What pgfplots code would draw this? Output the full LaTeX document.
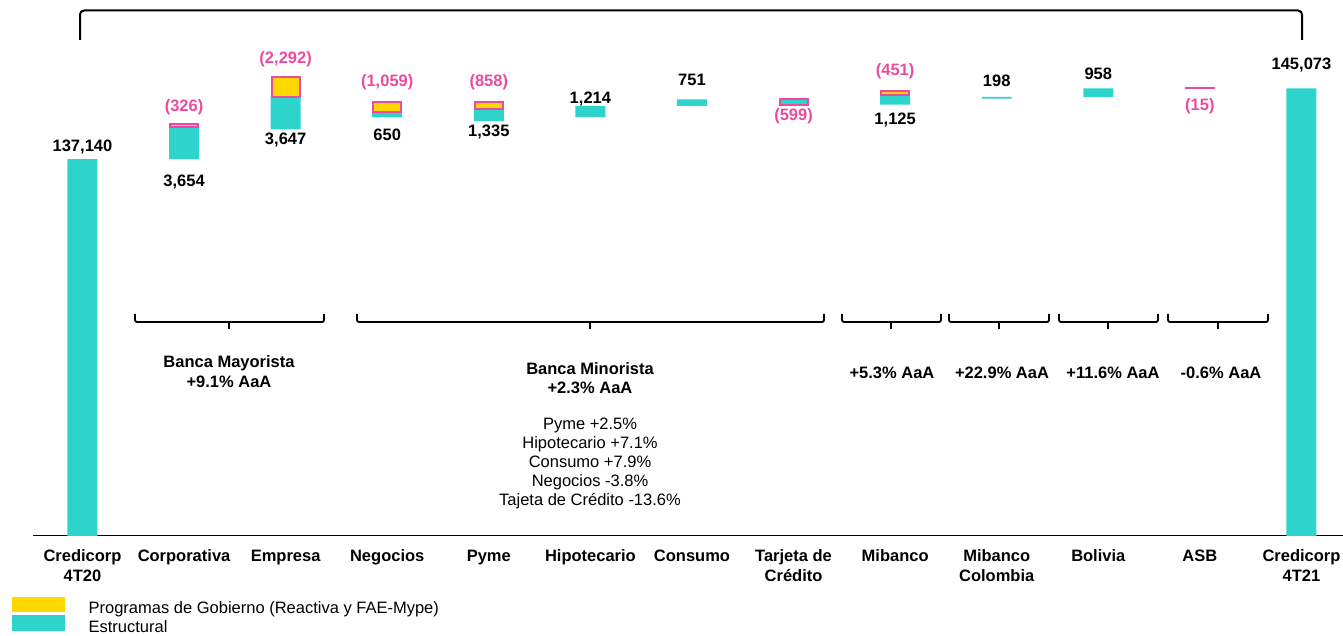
\documentclass[border=0pt]{standalone}
\usepackage{fontspec}
\setmainfont{Liberation Sans}
\usepackage{pgfplots}
\pgfplotsset{compat=1.18}

\definecolor{cian}{HTML}{2DD4CB}
\definecolor{oro}{HTML}{FFD800}
\definecolor{rosa}{HTML}{EC4A9F}

\newcommand{\fs}{\fontsize{16.5}{19.5}\selectfont}

% common geometry for the three overlaid axes
\pgfplotsset{
  cascada/.style={
    width=1310pt, height=535.5pt, scale only axis,
    xmin=-0.487, xmax=12.409, ymin=94900, ymax=155000,
    ybar stacked, bar width=30pt,
  },
}
\tikzset{
  lbl/.style={font=\bfseries\fs, inner sep=0pt},
  lneg/.style={lbl, text=rosa},
}

\begin{document}
\begin{tikzpicture}

% base + structural
\begin{axis}[cascada,
  axis x line*=bottom, axis y line=none,
  x axis line style={line width=1.6pt},
  xtick={0,...,12}, major tick length=0pt, ytick=\empty,
  xticklabels={{Credicorp\\4T20},Corporativa,Empresa,Negocios,Pyme,Hipotecario,Consumo,{Tarjeta de\\Crédito},Mibanco,{Mibanco\\Colombia},Bolivia,ASB,{Credicorp\\4T21}},
  xticklabel style={font=\bfseries\fs, align=center, inner sep=0pt, yshift=-14pt},
  legend style={at={(axis description cs:-0.016,-0.1145)}, anchor=north west,
    draw=none, fill=none, inner sep=0pt, font=\fs, row sep=-1pt,
    nodes={inner sep=0pt, text height=11pt, text depth=3pt},
    /tikz/every odd column/.append style={column sep=24pt}},
  legend cell align=left,
]
\addplot[draw=none, fill=none, forget plot] coordinates {
  (0,0) (1,137140) (2,140468) (3,141823) (4,141414) (5,141891) (6,143105)
  (7,143257) (8,143257) (9,143931) (10,144129) (11,145072) (12,0)
};
\addplot[draw=none, fill=cian, forget plot] coordinates {
  (0,137140) (1,3654) (2,3647) (3,650) (4,1335) (5,1214) (6,751)
  (7,0) (8,1125) (9,198) (10,958) (11,0) (12,145073)
};
\addlegendimage{legend image code/.code={\fill[oro] (0pt,-2pt) rectangle (52pt,12pt);}}
\addlegendentry{Programas de Gobierno (Reactiva y FAE-Mype)}
\addlegendimage{legend image code/.code={\fill[cian] (0pt,-2pt) rectangle (52pt,13pt);}}
\addlegendentry{Estructural}

% value labels
\node[lbl]  at (axis cs:0,138501) {137,140};
\node[lneg] at (axis cs:1,142991) {(326)};
\node[lbl]  at (axis cs:1,134573) {3,654};
\node[lneg] at (axis cs:2,148378) {(2,292)};
\node[lbl]  at (axis cs:2,139287) {3,647};
\node[lneg] at (axis cs:3,145796) {(1,059)};
\node[lbl]  at (axis cs:3,139848) {650};
\node[lneg] at (axis cs:4,145796) {(858)};
\node[lbl]  at (axis cs:4,140185) {1,335};
\node[lbl]  at (axis cs:5,143888) {1,214};
\node[lbl]  at (axis cs:6,146021) {751};
\node[lneg] at (axis cs:7,141980) {(599)};
\node[lneg] at (axis cs:8,147031) {(451)};
\node[lbl]  at (axis cs:8,141532) {1,125};
\node[lbl]  at (axis cs:9,145909) {198};
\node[lbl]  at (axis cs:10,146694) {958};
\node[lneg] at (axis cs:11,143100) {(15)};
\node[lbl]  at (axis cs:12,147704) {145,073};
\end{axis}

% pure decreases (Tarjeta de Credito, ASB)
\begin{axis}[cascada, hide axis, bar width=28pt]
\addplot[draw=none, fill=none] coordinates {(7,143257) (11,145072)};
\addplot[fill=cian, draw=rosa, line width=2pt] coordinates {(7,599) (11,15)};
\end{axis}

% government programmes
\begin{axis}[cascada, hide axis, bar width=28pt]
\addplot[draw=none, fill=none] coordinates {(1,140794) (2,144115) (3,142473) (4,142749) (8,144382)};
\addplot[fill=oro, draw=rosa, line width=2pt] coordinates {(1,326) (2,2292) (3,1059) (4,858) (8,451)};
\end{axis}

% brackets and segment notes, in picture pixels from top left
\begin{scope}[shift={(current axis.north west)}, x=1pt, y=-1pt, shift={(-33pt,0pt)}]
  \draw[line width=2pt, rounded corners=4pt] (80,40) -- (80,10.5) -- (1302,10.5) -- (1302,40);
  \foreach \a/\b/\m in {135/324/229, 357/824/590, 842/941/891, 949/1049/999, 1059/1158/1108, 1168/1268/1218}{
    \draw[line width=1.8pt, rounded corners=2pt] (\a,314) -- (\a,322) -- (\b,322) -- (\b,314);
    \draw[line width=1.8pt] (\m,322) -- (\m,329.5);
  }
  \node[lbl, align=center] at (229,371.5) {Banca Mayorista\\+9.1\% AaA};
  \node[lbl, align=center] at (590,378) {Banca Minorista\\+2.3\% AaA};
  \node[font=\fontsize{16.5}{19}\selectfont, align=center, inner sep=0pt] at (590,463)
    {Pyme +2.5\%\\Hipotecario +7.1\%\\Consumo +7.9\%\\Negocios -3.8\%\\Tajeta de Crédito -13.6\%};
  \node[lbl] at (892,373) {+5.3\% AaA};
  \node[lbl] at (1002,373) {+22.9\% AaA};
  \node[lbl] at (1113,373) {+11.6\% AaA};
  \node[lbl] at (1221,373) {-0.6\% AaA};
\end{scope}

\pgfresetboundingbox
\path ([xshift=-33pt,yshift=-99.5pt]current axis.south west) rectangle (current axis.north east);
\end{tikzpicture}
\end{document}
